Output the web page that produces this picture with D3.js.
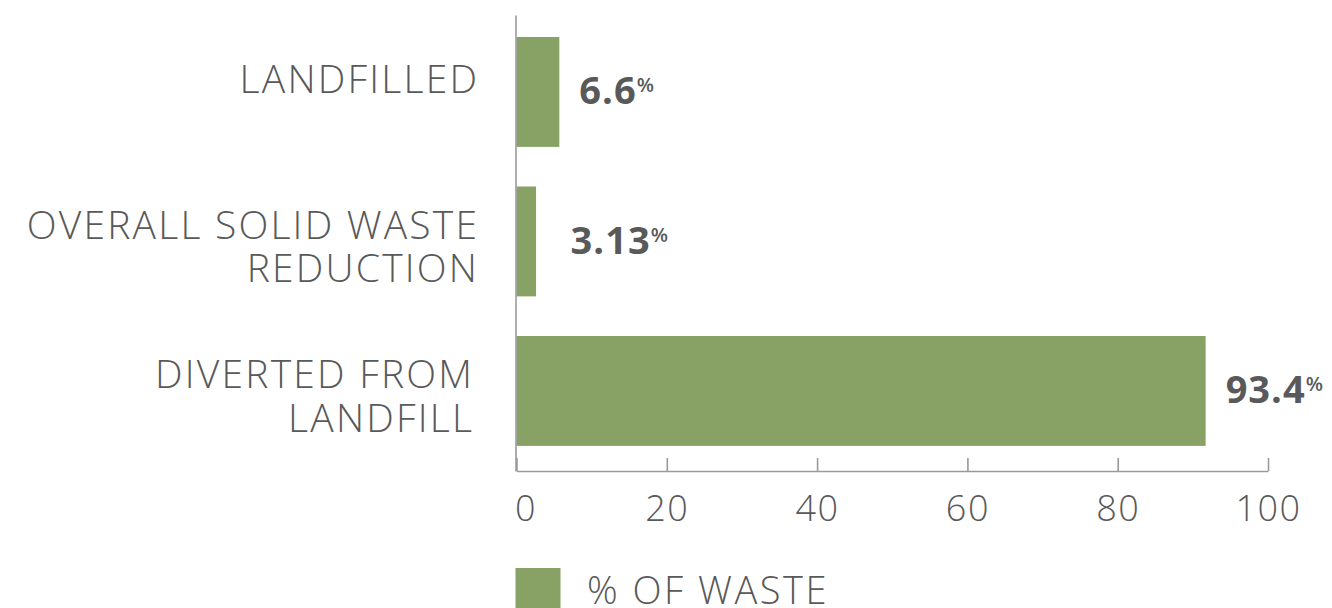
<!DOCTYPE html>
<html><head><meta charset="utf-8">
<script src="https://cdn.jsdelivr.net/npm/d3@7"></script>
<style>
html,body{margin:0;padding:0;background:#fff;}
svg{display:block;}
</style></head>
<body>
<svg id="chart" width="1332" height="608"></svg>
<script>
// ---- data ----
const categories = [["LANDFILLED"], ["OVERALL SOLID WASTE", "REDUCTION"], ["DIVERTED FROM", "LANDFILL"]];
const barValues = [5.7, 2.6, 91.7];           // bar lengths as drawn
const valueLabels = ["6.6", "3.13", "93.4"];  // printed labels
const xTicks = [0, 20, 40, 60, 80, 100];
const seriesName = "% OF WASTE";

const GREEN = "#88a265", TEXT = "#595959", AXIS = "#9a9a9a";
const FONT = "'Open Sans', sans-serif";

const svg = d3.select("#chart");
const x = d3.scaleLinear().domain([0, 100]).range([516.5, 1268]);
const y = d3.scaleBand().domain(d3.range(categories.length)).range([15, 471])
  .paddingInner(0.265).paddingOuter(0.1575).align(0.467);

// bars
svg.append("g").selectAll("rect").data(barValues).join("rect")
  .attr("x", x(0)).attr("y", (d, i) => y(i))
  .attr("width", d => x(d) - x(0)).attr("height", y.bandwidth())
  .attr("fill", GREEN);

// x axis
const xAxis = d3.axisBottom(x).tickValues(xTicks).tickSizeInner(-13).tickSizeOuter(0).tickPadding(24);
const gx = svg.append("g").attr("transform", `translate(0,${y.range()[1]})`).call(xAxis);
gx.select(".domain").attr("stroke", AXIS).attr("stroke-width", 1.6);
gx.selectAll(".tick line").attr("stroke", AXIS).attr("stroke-width", 1.6);
gx.selectAll(".tick text").attr("fill", TEXT).style("font-family", FONT)
  .style("font-weight", 300).style("font-size", "36px").style("letter-spacing", "1.5px")
  .attr("dx", d => d === 0 ? 9 : 0);

// y axis line
const yAxis = d3.axisLeft(y).tickSize(0).tickSizeOuter(0).tickFormat("");
const gy = svg.append("g").attr("transform", `translate(${x(0) - 1},0)`).call(yAxis);
gy.select(".domain").attr("stroke", AXIS).attr("stroke-width", 1.6);

// category labels (one text per line)
const LS = 2.2;
const catG = svg.append("g");
categories.forEach((lines, i) => {
  const c = y(i) + y.bandwidth() / 2;
  const first = c + 1 - (lines.length - 1) * 3.5;
  lines.forEach((ln, j) => {
    catG.append("text").attr("text-anchor", "end")
      .attr("x", 477 + LS - (i === 2 ? 5 : 0)).attr("y", first + j * 43.5)
      .attr("fill", TEXT).style("font-family", FONT).style("font-weight", 300)
      .style("font-size", "39px").style("letter-spacing", LS + "px")
      .text(ln);
  });
});

// value labels
const valG = svg.append("g");
barValues.forEach((v, i) => {
  const c = y(i) + y.bandwidth() / 2;
  const t = valG.append("text")
    .attr("x", Math.max(x(v) + 20, x(7.2)))
    .attr("y", c + 12.5)
    .attr("fill", TEXT).style("font-family", FONT).style("font-weight", 700)
    .style("font-size", "38px").style("letter-spacing", "1px");
  t.append("tspan").text(valueLabels[i]);
  t.append("tspan").attr("dy", -12).style("font-size", "20px").style("letter-spacing", "0px")
    .style("font-weight", 600).text("%");
});

// legend
const leg = svg.append("g");
leg.append("rect").attr("x", x(0) - 1).attr("y", 568).attr("width", 45).attr("height", 45).attr("fill", GREEN);
leg.append("text").attr("x", 587).attr("y", 603.5).attr("fill", TEXT)
  .style("font-family", FONT).style("font-weight", 300).style("font-size", "38px")
  .style("letter-spacing", "2.5px").text(seriesName);
</script>
</body></html>
